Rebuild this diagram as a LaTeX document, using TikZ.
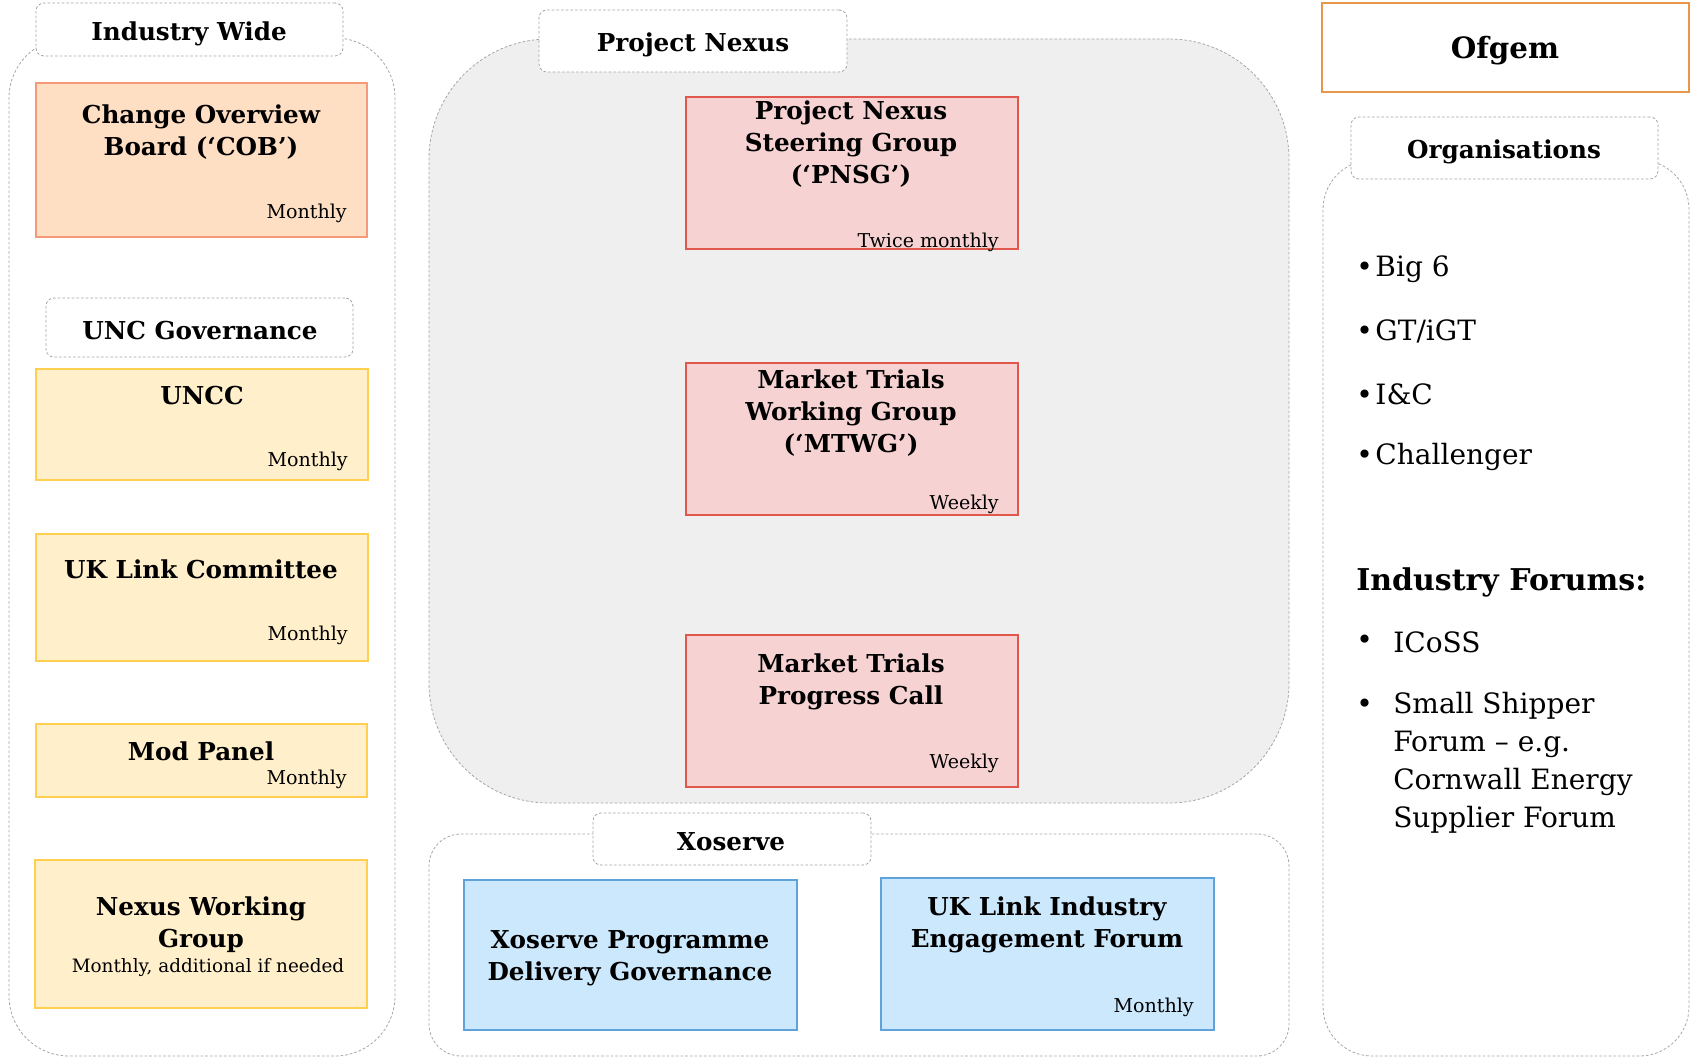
\documentclass[tikz,border=0pt]{standalone}
\usepackage{fontspec}
\setmainfont{DejaVu Serif}
\usetikzlibrary{fit}
\definecolor{cobfill}{HTML}{FFDFC4}
\definecolor{cobdraw}{HTML}{F29A7A}
\definecolor{yfill}{HTML}{FFEFCB}
\definecolor{ydraw}{HTML}{FFD04F}
\definecolor{rfill}{HTML}{F6D3D2}
\definecolor{rdraw}{HTML}{E0584D}
\definecolor{bfill}{HTML}{CCE8FC}
\definecolor{bdraw}{HTML}{5FA3DA}
\definecolor{gfill}{HTML}{EFEFEF}
\definecolor{dashc}{HTML}{A6A6A6}
\definecolor{ofdraw}{HTML}{E9964D}
\begin{document}
\begin{tikzpicture}[x=0.75pt,y=-0.75pt,
  container/.style={draw=dashc, line width=0.6pt, dash pattern=on 2pt off 1.5pt, inner sep=0pt},
  tab/.style={fill=white, draw=dashc, line width=0.6pt, dash pattern=on 2pt off 1.5pt, rounded corners=6pt, inner sep=0pt},
  cobbox/.style={fill=cobfill, draw=cobdraw, line width=0.8pt, inner sep=0pt},
  ybox/.style={fill=yfill, draw=ydraw, line width=0.8pt, inner sep=0pt},
  rbox/.style={fill=rfill, draw=rdraw, line width=0.8pt, inner sep=0pt},
  bbox/.style={fill=bfill, draw=bdraw, line width=0.8pt, inner sep=0pt},
  hd/.style={font=\bfseries\fontsize{18.5}{24}\selectfont, align=center, inner sep=0pt},
  fq/.style={font=\fontsize{14.3}{17}\selectfont, inner sep=0pt},
  big/.style={font=\fontsize{21}{28.5}\selectfont, inner sep=0pt},
  bigb/.style={font=\bfseries\fontsize{22.5}{28.5}\selectfont, inner sep=0pt}
]
\useasboundingbox (0,0) rectangle (1693,1059);

% ---------------- Industry Wide column ----------------
\node[container, rounded corners=45pt, fit={(9,38)(395,1056)}] (iwc) {};
\node[tab, fit={(36,3)(343,56)}] (iwtab) {};
\node[hd] (iwt) at (189,34) {Industry Wide};

\node[cobbox, fit={(36,83)(367,237)}] (cob) {};
\node[hd] (cobt) at (201,132) {Change Overview\\Board (‘COB’)};
\node[fq, anchor=east] (cobf) at (347,213) {Monthly};

\node[tab, fit={(46,298)(353,357)}] (unctab) {};
\node[hd] (unct) at (200,331) {UNC Governance};

\node[ybox, fit={(36,369)(368,480)}] (uncc) {};
\node[hd] (uncct) at (202,396) {UNCC};
\node[fq, anchor=east] (unccf) at (348,461) {Monthly};

\node[ybox, fit={(36,534)(368,661)}] (ukc) {};
\node[hd] (ukct) at (201,569) {UK Link Committee};
\node[fq, anchor=east] (ukcf) at (348,635) {Monthly};

\node[ybox, fit={(36,724)(367,797)}] (mod) {};
\node[hd] (modt) at (201,751) {Mod Panel};
\node[fq, anchor=east] (modf) at (347,779) {Monthly};

\node[ybox, fit={(35,860)(367,1008)}] (nwg) {};
\node[hd] (nwgt) at (201,925) {Nexus Working\\Group};
\node[font=\fontsize{13.8}{17}\selectfont, inner sep=0pt] (nwgf) at (208,968) {Monthly, additional if needed};

% ---------------- Project Nexus ----------------
\node[container, fill=gfill, rounded corners=90pt, fit={(429,39)(1289,803)}] (pnc) {};
\node[tab, fit={(539,10)(847,72)}] (pntab) {};
\node[hd] (pnt) at (693,45) {Project Nexus};

\node[rbox, fit={(686,97)(1018,249)}] (pnsg) {};
\node[hd] (pnsgt) at (851,144) {Project Nexus\\Steering Group\\(‘PNSG’)};
\node[fq, anchor=east] (pnsgf) at (999,242) {Twice monthly};

\node[rbox, fit={(686,363)(1018,515)}] (mtwg) {};
\node[hd] (mtwgt) at (851,413) {Market Trials\\Working Group\\(‘MTWG’)};
\node[fq, anchor=east] (mtwgf) at (999,504) {Weekly};

\node[rbox, fit={(686,635)(1018,787)}] (mtpc) {};
\node[hd] (mtpct) at (851,682) {Market Trials\\Progress Call};
\node[fq, anchor=east] (mtpcf) at (999,763) {Weekly};

% ---------------- Xoserve ----------------
\node[container, rounded corners=24pt, fit={(429,834)(1289,1056)}] (xoc) {};
\node[tab, fit={(593,813)(871,865)}] (xotab) {};
\node[hd] (xot) at (731,842) {Xoserve};

\node[bbox, fit={(464,880)(797,1030)}] (xpdg) {};
\node[hd] (xpdgt) at (630,958) {Xoserve Programme\\Delivery Governance};

\node[bbox, fit={(881,878)(1214,1030)}] (ukl) {};
\node[hd] (uklt) at (1047,925) {UK Link Industry\\Engagement Forum};
\node[fq, anchor=east] (uklf) at (1194,1007) {Monthly};

% ---------------- Ofgem / Organisations ----------------
\node[draw=ofdraw, line width=1pt, inner sep=0pt, fit={(1322,3)(1689,92)}] (ofg) {};
\node[font=\bfseries\fontsize{22}{28}\selectfont, inner sep=0pt] (ofgt) at (1505,51) {Ofgem};

\node[container, rounded corners=37pt, fit={(1323,160)(1689,1056)}] (orgc) {};
\node[tab, fit={(1351,117)(1658,179)}] (orgtab) {};
\node[hd] (orgt) at (1504,152) {Organisations};

\node[big, anchor=west] (b1) at (1356,269) {•\hspace{2pt}Big 6};
\node[big, anchor=west] (b2) at (1356,331) {•\hspace{2pt}GT/iGT};
\node[big, anchor=west] (b3) at (1356,394) {•\hspace{2pt}I\&C};
\node[big, anchor=west] (b4) at (1356,457) {•\hspace{2pt}Challenger};

\node[bigb, anchor=west] (iff) at (1356,582) {Industry Forums:};
\node[big, anchor=west] (f1d) at (1356,642) {•};
\node[big, anchor=west] (f1) at (1393,642) {ICoSS};
\node[big, anchor=west] (f2d) at (1356,706) {•};
\node[big, anchor=north west, align=left] (f2) at (1393,692) {Small Shipper\\Forum – e.g.\\Cornwall Energy\\Supplier Forum};
\end{tikzpicture}
\end{document}
